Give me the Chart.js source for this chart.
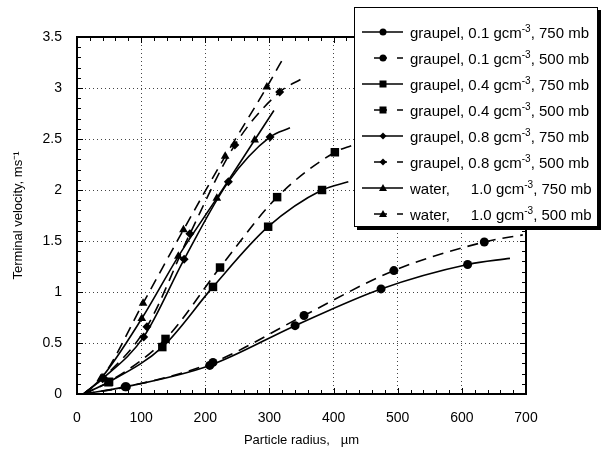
<!DOCTYPE html>
<html>
<head>
<meta charset="utf-8">
<script src="https://cdn.jsdelivr.net/npm/chart.js@4.4.1/dist/chart.umd.min.js"></script>
<style>
  body { margin: 0; background: #fff; }
  #wrap { position: relative; width: 602px; height: 450px; font-family: 'Liberation Sans', Arial, sans-serif; }
  #legend {
    position: absolute; left: 354px; top: 7px; width: 244px; height: 220px;
    box-sizing: border-box; border: 1px solid #000; box-shadow: 3px 3px 0 #000;
    background: #fff; padding-top: 11px;
  }
  .row { height: 26px; display: flex; align-items: center; font-size: 15px; white-space: pre; color: #000; }
  .row svg { margin-left: 7px; margin-right: 5px; flex: none; }
  .row sup { font-size: 10px; line-height: 0; vertical-align: 6px; }
</style>
</head>
<body>
<div id="wrap">
  <canvas id="chart" width="602" height="450"></canvas>
  <div id="legend"></div>
</div>
<script>
// particle radius (µm) and terminal velocity (m/s);
// first and last entries are the line ends, the rest carry markers
const g01_750_r = [10, 75, 207, 340, 474, 609, 675];
const g01_750_v = [0, 0.07, 0.28, 0.67, 1.03, 1.27, 1.33];
const g01_500_r = [10, 77, 212, 354, 494, 635, 695];
const g01_500_v = [0, 0.07, 0.31, 0.77, 1.21, 1.49, 1.56];

const g04_750_r = [10, 49, 133, 212, 298, 382, 423];
const g04_750_v = [0, 0.115, 0.46, 1.05, 1.64, 2.0, 2.08];
const g04_500_r = [10, 50, 138, 223, 312, 402, 430];
const g04_500_v = [0, 0.12, 0.54, 1.24, 1.93, 2.37, 2.44];

const g08_750_r = [10, 40, 104, 167, 236, 301, 332];
const g08_750_v = [0, 0.15, 0.56, 1.32, 2.08, 2.52, 2.61];
const g08_500_r = [10, 41, 109, 176, 246, 316, 350];
const g08_500_v = [0, 0.16, 0.66, 1.57, 2.44, 2.96, 3.09];

const w_750_r = [10, 37, 101, 158, 218, 277, 307];
const w_750_v = [0, 0.15, 0.74, 1.35, 1.92, 2.49, 2.78];
const w_500_r = [10, 39, 103, 166, 231, 296, 324];
const w_500_v = [0, 0.16, 0.89, 1.61, 2.33, 3.01, 3.32];

const legendLabels = [
  ['graupel, 0.1 gcm', ', 750 mb'],
  ['graupel, 0.1 gcm', ', 500 mb'],
  ['graupel, 0.4 gcm', ', 750 mb'],
  ['graupel, 0.4 gcm', ', 500 mb'],
  ['graupel, 0.8 gcm', ', 750 mb'],
  ['graupel, 0.8 gcm', ', 500 mb'],
  ['water,     1.0 gcm', ', 750 mb'],
  ['water,     1.0 gcm', ', 500 mb'],
];
const xTicks = [0, 100, 200, 300, 400, 500, 600, 700];
const yTicks = [0, 0.5, 1, 1.5, 2, 2.5, 3, 3.5];

const series = [
  { r: g01_750_r, v: g01_750_v, marker: 'circle', dashed: false },
  { r: g01_500_r, v: g01_500_v, marker: 'circle', dashed: true },
  { r: g04_750_r, v: g04_750_v, marker: 'rect', dashed: false },
  { r: g04_500_r, v: g04_500_v, marker: 'rect', dashed: true },
  { r: g08_750_r, v: g08_750_v, marker: 'rectRot', dashed: false },
  { r: g08_500_r, v: g08_500_v, marker: 'rectRot', dashed: true },
  { r: w_750_r, v: w_750_v, marker: 'triangle', dashed: false },
  { r: w_500_r, v: w_500_v, marker: 'triangle', dashed: true },
];

const markerSize = { circle: 4.5, rect: 6, rectRot: 4.5, triangle: 5 };
const DASH = [11, 7];

const datasets = series.map((s, i) => ({
  label: legendLabels[i].join('-3'),
  data: s.r.map((r, k) => ({ x: r, y: s.v[k] })),
  borderColor: '#000',
  backgroundColor: '#000',
  borderWidth: 1.6,
  borderDash: s.dashed ? DASH : [],
  cubicInterpolationMode: 'monotone',
  pointStyle: s.marker,
  pointRadius: (ctx) =>
    ctx.dataIndex === 0 || ctx.dataIndex === s.r.length - 1 ? 0 : markerSize[s.marker],
  pointBorderWidth: 0,
}));

// frame and small inward ticks on all four sides
const frameTicks = {
  id: 'frameTicks',
  afterDraw(chart) {
    const { ctx, chartArea: a, scales: { x, y } } = chart;
    ctx.save();
    ctx.strokeStyle = '#000';
    ctx.lineWidth = 1;
    ctx.beginPath();
    for (let v = 0; v <= 700; v += 20) {
      const px = Math.round(x.getPixelForValue(v)) + 0.5;
      const len = v % 100 === 0 ? 6 : 4;
      ctx.moveTo(px, a.bottom); ctx.lineTo(px, a.bottom - len);
      ctx.moveTo(px, a.top); ctx.lineTo(px, a.top + len);
    }
    for (let i = 0; i <= 35; i++) {
      const py = Math.round(y.getPixelForValue(i / 10)) + 0.5;
      const len = i % 5 === 0 ? 6 : 4;
      ctx.moveTo(a.left, py); ctx.lineTo(a.left + len, py);
      ctx.moveTo(a.right, py); ctx.lineTo(a.right - len, py);
    }
    ctx.stroke();
    ctx.lineWidth = 2;
    ctx.strokeRect(a.left, a.top, a.right - a.left, a.bottom - a.top);
    ctx.restore();
  },
};

Chart.defaults.font.family = "'Liberation Sans', Arial, sans-serif";
Chart.defaults.color = '#000';

new Chart(document.getElementById('chart'), {
  type: 'line',
  data: { datasets },
  options: {
    responsive: false,
    animation: false,
    events: [],
    layout: { padding: { top: 37, right: 76, left: 0, bottom: 0 } },
    plugins: { legend: { display: false }, tooltip: { enabled: false } },
    scales: {
      x: {
        type: 'linear', min: 0, max: 700,
        afterBuildTicks: (s) => { s.ticks = xTicks.map((v) => ({ value: v })); },
        afterFit: (s) => { s.height = 56; },
        ticks: { font: { size: 14 }, padding: 16, maxRotation: 0, callback: (v) => String(v) },
        grid: { color: '#444', lineWidth: 1, drawTicks: false },
        border: { display: false, dash: [1, 3] },
        title: { display: true, text: 'Particle radius,   µm', font: { size: 13 }, padding: { bottom: 2 } },
      },
      y: {
        type: 'linear', min: 0, max: 3.5,
        afterBuildTicks: (s) => { s.ticks = yTicks.map((v) => ({ value: v })); },
        afterFit: (s) => { s.width = 77; },
        ticks: { font: { size: 14 }, padding: 15, callback: (v) => String(v) },
        grid: { color: '#444', lineWidth: 1, drawTicks: false },
        border: { display: false, dash: [1, 3] },
        title: { display: true, text: 'Terminal velocity, ms⁻¹', font: { size: 13 }, padding: { top: 11 } },
      },
    },
  },
  plugins: [frameTicks],
});

// legend box with line samples
function sampleSvg(s) {
  const c = 21, cy = 6;
  let lines = s.dashed
    ? `<line x1="12" y1="${cy}" x2="25" y2="${cy}"/><line x1="35" y1="${cy}" x2="41" y2="${cy}"/>`
    : `<line x1="0" y1="${cy}" x2="41" y2="${cy}"/>`;
  let m;
  if (s.marker === 'circle') m = `<circle cx="${c}" cy="${cy}" r="3.5"/>`;
  else if (s.marker === 'rect') m = `<rect x="${c - 3.5}" y="${cy - 3.5}" width="7" height="7"/>`;
  else if (s.marker === 'rectRot') m = `<polygon points="${c},${cy - 3.5} ${c + 3.5},${cy} ${c},${cy + 3.5} ${c - 3.5},${cy}"/>`;
  else m = `<polygon points="${c},${cy - 4} ${c + 4},${cy + 3} ${c - 4},${cy + 3}"/>`;
  return `<svg width="43" height="12" viewBox="0 0 43 12"><g stroke="#000" stroke-width="1.5">${lines}</g><g fill="#000">${m}</g></svg>`;
}
document.getElementById('legend').innerHTML = series
  .map((s, i) => `<div class="row">${sampleSvg(s)}<span>${legendLabels[i][0]}<sup>-3</sup>${legendLabels[i][1]}</span></div>`)
  .join('');
</script>
</body>
</html>
